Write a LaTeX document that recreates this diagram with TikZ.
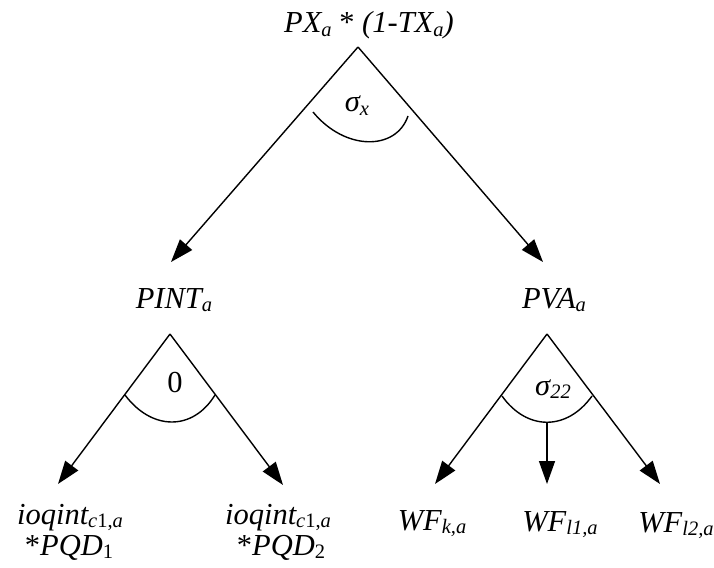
\documentclass[tikz,border=0pt]{standalone}
\usepackage{fontspec}
\setmainfont{Liberation Serif}
\usetikzlibrary{arrows.meta}
\newcommand\sbs[1]{\raisebox{-0.12em}{\fontsize{20.5}{20.5}\selectfont #1}}
\tikzset{
  lbl/.style={anchor=base, inner sep=0pt, font=\fontsize{30.5}{32}\selectfont\itshape},
  arr/.style={line width=1.4pt, -{Triangle[length=23pt,width=16pt]}},
  nestarc/.style={line width=1.4pt}
}
\begin{document}
\begin{tikzpicture}[x=1pt,y=-1pt]
\useasboundingbox (0,0) rectangle (714,567);
% labels
\node[lbl] (top) at (369,33) {PX\sbs{a} \upshape{*} \itshape (1-TX\sbs{a})};
\node[lbl] (pint) at (174,308) {PINT\sbs{a}};
\node[lbl] (pva) at (554,308) {PVA\sbs{a}};
\node[lbl] (sx) at (357,112) {σ\sbs{x}};
\node[lbl] (zero) at (175,392) {\upshape 0};
\node[lbl] (s22) at (553,395) {σ\sbs{22}};
\node[lbl] (ioq1) at (70,524) {ioqint\sbs{c\upshape{1,}\itshape a}};
\node[lbl] (pqd1) at (69,555) {\upshape{*}\itshape PQD\sbs{\upshape 1}};
\node[lbl] (ioq2) at (278,524) {ioqint\sbs{c\upshape{1,}\itshape a}};
\node[lbl] (pqd2) at (281,555) {\upshape{*}\itshape PQD\sbs{\upshape 2}};
\node[lbl] (wfk) at (432,530) {WF\sbs{k,a}};
\node[lbl] (wfl1) at (560,531) {WF\sbs{l1,a}};
\node[lbl] (wfl2) at (676,532) {WF\sbs{l2,a}};
% apexes and tips
\coordinate (ta) at (358,47);
\coordinate (tl) at (171,262);
\coordinate (tr) at (543,262);
\coordinate (la) at (170,334);
\coordinate (ll) at (58,484);
\coordinate (lr) at (283,485);
\coordinate (ra) at (547,334);
\coordinate (rl) at (435,484);
\coordinate (rm) at (547,484);
\coordinate (rr) at (660,484);
\coordinate (rmb) at (547,422);
% top wedge
\draw[arr] (ta) -- (tl);
\draw[arr] (ta) -- (tr);
\draw[nestarc] (313,112) .. controls (345,151) and (396,151) .. (408,116);
% left wedge
\draw[arr] (la) -- (ll);
\draw[arr] (la) -- (lr);
\draw[nestarc] (125,395) .. controls (152,431) and (193,431) .. (215,395);
% right wedge
\draw[arr] (ra) -- (rl);
\draw[arr] (ra) -- (rr);
\draw[nestarc] (502,396) .. controls (527,431) and (567,431) .. (592,396);
\draw[arr] (rmb) -- (rm);
\end{tikzpicture}
\end{document}
